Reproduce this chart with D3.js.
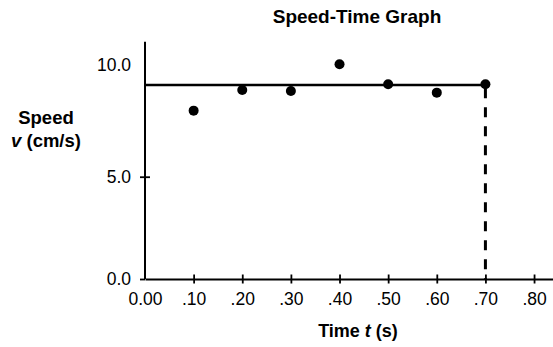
<!DOCTYPE html>
<html>
<head>
<meta charset="utf-8">
<script src="https://cdn.jsdelivr.net/npm/d3@7"></script>
<style>
  body { margin: 0; background: #fff; }
  svg { display: block; font-family: "Liberation Sans", Arial, sans-serif; }
</style>
</head>
<body>
<div id="chart"></div>
<script>
// Measured times (s) and speeds (cm/s)
const times = [0.10, 0.20, 0.30, 0.40, 0.50, 0.60, 0.70];
const speeds = [8.23, 9.24, 9.19, 10.5, 9.52, 9.11, 9.52];
const avgSpeed = 9.48;
const xTicks = [0, 0.1, 0.2, 0.3, 0.4, 0.5, 0.6, 0.7, 0.8];
const xTickLabels = ["0.00", ".10", ".20", ".30", ".40", ".50", ".60", ".70", ".80"];
const yTicks = [0, 5, 10];
const yTickLabels = ["0.0", "5.0", "10.0"];

const width = 553, height = 347;

const x = d3.scaleLinear().domain([0, 0.84]).range([145, 553.5]);
const y = d3.scaleLinear().domain([0, 11.6]).range([279, 41.7]);

const svg = d3.select("#chart").append("svg")
    .attr("width", width)
    .attr("height", height);

// Title
svg.append("text")
    .attr("x", 357).attr("y", 23)
    .attr("text-anchor", "middle")
    .attr("font-size", 19).attr("font-weight", "bold")
    .text("Speed-Time Graph");

// x axis
const xAxis = svg.append("g")
    .attr("transform", `translate(0,${y(0)})`)
    .call(d3.axisBottom(x).tickValues(xTicks).tickFormat((d, i) => xTickLabels[i]).tickSize(5).tickSizeOuter(0));
xAxis.select(".domain").attr("stroke", "#000").attr("stroke-width", 2);
xAxis.selectAll(".tick line").attr("y1", -4.5).attr("y2", 4.5).attr("stroke-width", 1.8);
xAxis.selectAll(".tick text").attr("font-size", 17.5).attr("font-family", null).attr("dy", null).attr("y", 26);
xAxis.select(".tick:first-of-type line").remove();

// y axis
const yAxis = svg.append("g")
    .attr("transform", `translate(${x(0)},0)`)
    .call(d3.axisLeft(y).tickValues(yTicks).tickFormat((d, i) => yTickLabels[i]).tickSize(5).tickSizeOuter(0));
yAxis.select(".domain").attr("stroke", "#000").attr("stroke-width", 2)
    .attr("d", `M0,${y(0)}V${y(11.6)}`);
yAxis.selectAll(".tick line").attr("x1", -5).attr("x2", 5).attr("stroke-width", 1.8);
yAxis.selectAll(".tick text").attr("font-size", 17.5).attr("font-family", null).attr("x", -14);
yAxis.selectAll(".tick").filter(d => d === 10).select("line").remove();
yAxis.selectAll(".tick").filter(d => d === 10).select("text").attr("dy", "-0.2em");
yAxis.selectAll(".tick").filter(d => d === 0).select("line").attr("x2", 0);

// Axis labels
svg.append("text")
    .attr("x", 46).attr("y", 124)
    .attr("text-anchor", "middle")
    .attr("font-size", 18.5).attr("font-weight", "bold")
    .text("Speed");
const vLab = svg.append("text")
    .attr("x", 46).attr("y", 147)
    .attr("text-anchor", "middle")
    .attr("font-size", 18.5).attr("font-weight", "bold");
vLab.append("tspan").attr("font-style", "italic").text("v");
vLab.append("tspan").text(" (cm/s)");

const tLab = svg.append("text")
    .attr("x", 358).attr("y", 337)
    .attr("text-anchor", "middle")
    .attr("font-size", 18).attr("font-weight", "bold");
tLab.append("tspan").text("Time ");
tLab.append("tspan").attr("font-style", "italic").text("t");
tLab.append("tspan").text(" (s)");

// Average speed line
svg.append("line")
    .attr("x1", x(0)).attr("x2", x(0.70))
    .attr("y1", y(avgSpeed)).attr("y2", y(avgSpeed))
    .attr("stroke", "#000").attr("stroke-width", 2.5);

// Dashed drop line at t = .70
svg.append("line")
    .attr("x1", x(0.70)).attr("x2", x(0.70))
    .attr("y1", y(speeds[6]) + 4).attr("y2", y(0))
    .attr("stroke", "#000").attr("stroke-width", 3)
    .attr("stroke-dasharray", "10,9");

// Data points
svg.append("g")
  .selectAll("circle")
  .data(times)
  .join("circle")
    .attr("cx", d => x(d))
    .attr("cy", (d, i) => y(speeds[i]))
    .attr("r", 5)
    .attr("fill", "#000");
</script>
</body>
</html>
